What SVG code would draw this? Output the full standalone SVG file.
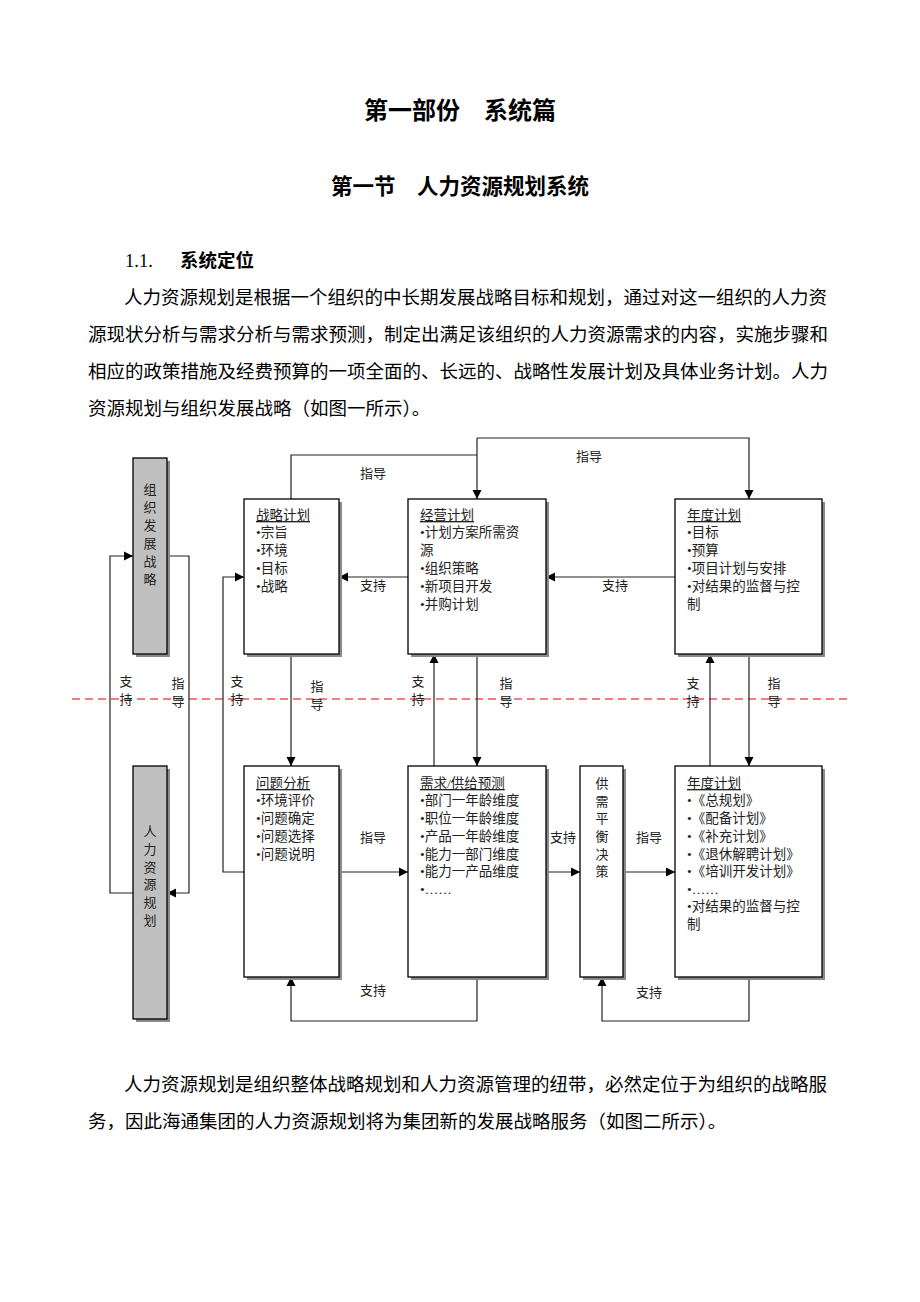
<svg xmlns="http://www.w3.org/2000/svg" width="920" height="1302" viewBox="0 0 920 1302">
<style>
.t{font-family:"Liberation Serif","Noto Sans CJK SC",serif;fill:#000}
.body{font-size:18.5px}
.h{font-weight:bold}
.box{fill:#fff;stroke:#000;stroke-width:1.3}
.gbox{fill:#c0c0c0;stroke:#000;stroke-width:1.3}
.sh{fill:#8a8a8a}
.bt{font-family:"Liberation Serif","Noto Sans CJK SC",serif;font-size:13.5px;fill:#222}
.lb{font-family:"Noto Sans CJK SC",sans-serif;font-size:13px;fill:#222;text-anchor:middle}
.ul{text-decoration:underline}
.c{fill:none;stroke:#222;stroke-width:1.2}
</style>
<defs>
<marker id="ah" markerUnits="userSpaceOnUse" markerWidth="10" markerHeight="10" refX="9" refY="5" orient="auto">
<path d="M0,0.5 L9,5 L0,9.5 Z" fill="#000"/>
</marker>
</defs>
<rect width="920" height="1302" fill="#fff"/>

<g id="page-text">
<text class="t h" x="460" y="119" font-size="24" text-anchor="middle" font-family="Noto Sans CJK SC, sans-serif">第一部份　系统篇</text>
<text class="t h" x="460" y="194" font-size="21.5" text-anchor="middle" font-family="Noto Sans CJK SC, sans-serif">第一节　人力资源规划系统</text>
<text class="t body" x="125" y="267">1.1.<tspan x="180" font-weight="bold" font-family="Noto Sans CJK SC, sans-serif">系统定位</tspan></text>
<text class="t body" x="124" y="304" textLength="703" lengthAdjust="spacing">人力资源规划是根据一个组织的中长期发展战略目标和规划，通过对这一组织的人力资</text>
<text class="t body" x="88" y="341" textLength="740" lengthAdjust="spacing">源现状分析与需求分析与需求预测，制定出满足该组织的人力资源需求的内容，实施步骤和</text>
<text class="t body" x="88" y="378" textLength="740" lengthAdjust="spacing">相应的政策措施及经费预算的一项全面的、长远的、战略性发展计划及具体业务计划。人力</text>
<text class="t body" x="88" y="415">资源规划与组织发展战略（如图一所示）。</text>
<text class="t body" x="124" y="1091" textLength="703" lengthAdjust="spacing">人力资源规划是组织整体战略规划和人力资源管理的纽带，必然定位于为组织的战略服</text>
<text class="t body" x="88" y="1128">务，因此海通集团的人力资源规划将为集团新的发展战略服务（如图二所示）。</text>
</g>

<line x1="72" y1="699" x2="848" y2="699" stroke="#e00000" stroke-width="1.1" stroke-dasharray="8,5"/>

<g id="connectors">
<path class="c" d="M133,893 H110 V556 H133" marker-end="url(#ah)"/>
<path class="c" d="M167,556 H189 V893 H167" marker-end="url(#ah)"/>
<path class="c" d="M244,872 H223 V577 H244" marker-end="url(#ah)"/>
<path class="c" d="M291,499 V455 H477"/>
<path class="c" d="M477,438 V499" marker-end="url(#ah)"/>
<path class="c" d="M477,438 H749 V499" marker-end="url(#ah)"/>
<path class="c" d="M408,577 H339" marker-end="url(#ah)"/>
<path class="c" d="M675,577 H546" marker-end="url(#ah)"/>
<path class="c" d="M291,654 V766" marker-end="url(#ah)"/>
<path class="c" d="M434,766 V654" marker-end="url(#ah)"/>
<path class="c" d="M477,654 V766" marker-end="url(#ah)"/>
<path class="c" d="M710,766 V654" marker-end="url(#ah)"/>
<path class="c" d="M749,654 V766" marker-end="url(#ah)"/>
<path class="c" d="M339,872 H408" marker-end="url(#ah)"/>
<path class="c" d="M546,872 H580" marker-end="url(#ah)"/>
<path class="c" d="M623,872 H675" marker-end="url(#ah)"/>
<path class="c" d="M477,977 V1021 H291 V977" marker-end="url(#ah)"/>
<path class="c" d="M749,977 V1021 H602 V977" marker-end="url(#ah)"/>
<g id="connector-labels">
<text class="lb" x="373" y="478">指导</text>
<text class="lb" x="589" y="461">指导</text>
<text class="lb" x="373" y="590">支持</text>
<text class="lb" x="615" y="590">支持</text>
<text class="lb" x="373" y="842">指导</text>
<text class="lb" x="563" y="842">支持</text>
<text class="lb" x="649" y="842">指导</text>
<text class="lb" x="373" y="995">支持</text>
<text class="lb" x="649" y="997">支持</text>
<text class="lb" x="126" y="686">支</text><text class="lb" x="126" y="704">持</text>
<text class="lb" x="178" y="688">指</text><text class="lb" x="178" y="706">导</text>
<text class="lb" x="237" y="686">支</text><text class="lb" x="237" y="704">持</text>
<text class="lb" x="317" y="691">指</text><text class="lb" x="317" y="709">导</text>
<text class="lb" x="418" y="686">支</text><text class="lb" x="418" y="704">持</text>
<text class="lb" x="506" y="688">指</text><text class="lb" x="506" y="706">导</text>
<text class="lb" x="693" y="688">支</text><text class="lb" x="693" y="706">持</text>
<text class="lb" x="774" y="688">指</text><text class="lb" x="774" y="706">导</text>
</g>
</g>

<g id="node-org-strategy">
<rect class="sh" x="136" y="461" width="34" height="196"/>
<rect class="gbox" x="133" y="458" width="34" height="196"/>
<text class="lb" x="150" y="494">组</text>
<text class="lb" x="150" y="512">织</text>
<text class="lb" x="150" y="530">发</text>
<text class="lb" x="150" y="548">展</text>
<text class="lb" x="150" y="566">战</text>
<text class="lb" x="150" y="584">略</text>
</g>

<g id="node-hr-planning">
<rect class="sh" x="136" y="769" width="34" height="253"/>
<rect class="gbox" x="133" y="766" width="34" height="253"/>
<text class="lb" x="150" y="836">人</text>
<text class="lb" x="150" y="854">力</text>
<text class="lb" x="150" y="872">资</text>
<text class="lb" x="150" y="889">源</text>
<text class="lb" x="150" y="907">规</text>
<text class="lb" x="150" y="925">划</text>
</g>

<g id="node-strategic-plan">
<rect class="sh" x="247" y="502" width="95" height="155"/>
<rect class="box" x="244" y="499" width="95" height="155"/>
<text class="bt ul" x="256" y="520">战略计划</text>
<text class="bt" x="256" y="537">•宗旨</text>
<text class="bt" x="256" y="555">•环境</text>
<text class="bt" x="256" y="573">•目标</text>
<text class="bt" x="256" y="591">•战略</text>
</g>

<g id="node-business-plan">
<rect class="sh" x="411" y="502" width="138" height="155"/>
<rect class="box" x="408" y="499" width="138" height="155"/>
<text class="bt ul" x="420" y="520">经营计划</text>
<text class="bt" x="420" y="537">•计划方案所需资</text>
<text class="bt" x="420" y="555">源</text>
<text class="bt" x="420" y="573">•组织策略</text>
<text class="bt" x="420" y="591">•新项目开发</text>
<text class="bt" x="420" y="609">•并购计划</text>
</g>

<g id="node-annual-plan-top">
<rect class="sh" x="678" y="502" width="147" height="155"/>
<rect class="box" x="675" y="499" width="147" height="155"/>
<text class="bt ul" x="687" y="520">年度计划</text>
<text class="bt" x="687" y="537">•目标</text>
<text class="bt" x="687" y="555">•预算</text>
<text class="bt" x="687" y="573">•项目计划与安排</text>
<text class="bt" x="687" y="591">•对结果的监督与控</text>
<text class="bt" x="687" y="609">制</text>
</g>

<g id="node-problem-analysis">
<rect class="sh" x="247" y="769" width="95" height="211"/>
<rect class="box" x="244" y="766" width="95" height="211"/>
<text class="bt ul" x="256" y="788">问题分析</text>
<text class="bt" x="256" y="805">•环境评价</text>
<text class="bt" x="256" y="823">•问题确定</text>
<text class="bt" x="256" y="841">•问题选择</text>
<text class="bt" x="256" y="859">•问题说明</text>
</g>

<g id="node-forecast">
<rect class="sh" x="411" y="769" width="138" height="211"/>
<rect class="box" x="408" y="766" width="138" height="211"/>
<text class="bt ul" x="420" y="788">需求/供给预测</text>
<text class="bt" x="420" y="805">•部门一年龄维度</text>
<text class="bt" x="420" y="823">•职位一年龄维度</text>
<text class="bt" x="420" y="841">•产品一年龄维度</text>
<text class="bt" x="420" y="859">•能力一部门维度</text>
<text class="bt" x="420" y="876">•能力一产品维度</text>
<text class="bt" x="420" y="894">•……</text>
</g>

<g id="node-balance">
<rect class="sh" x="583" y="769" width="43" height="211"/>
<rect class="box" x="580" y="766" width="43" height="211"/>
<text class="lb" x="602" y="788">供</text>
<text class="lb" x="602" y="806">需</text>
<text class="lb" x="602" y="823">平</text>
<text class="lb" x="602" y="841">衡</text>
<text class="lb" x="602" y="859">决</text>
<text class="lb" x="602" y="876">策</text>
</g>

<g id="node-annual-plan-bottom">
<rect class="sh" x="678" y="769" width="147" height="211"/>
<rect class="box" x="675" y="766" width="147" height="211"/>
<text class="bt ul" x="687" y="788">年度计划</text>
<text class="bt" x="687" y="805">•《总规划》</text>
<text class="bt" x="687" y="823">•《配备计划》</text>
<text class="bt" x="687" y="841">•《补充计划》</text>
<text class="bt" x="687" y="859">•《退休解聘计划》</text>
<text class="bt" x="687" y="876">•《培训开发计划》</text>
<text class="bt" x="687" y="894">•……</text>
<text class="bt" x="687" y="911">•对结果的监督与控</text>
<text class="bt" x="687" y="929">制</text>
</g>
</svg>
